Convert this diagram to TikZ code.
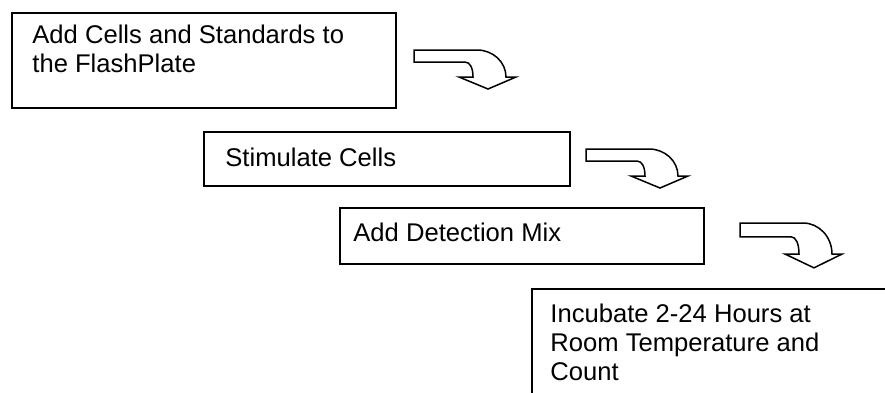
\documentclass[tikz,border=0pt]{standalone}
\usepackage{fontspec}
\setmainfont{Liberation Sans}
\usepackage{tikz}
\tikzstyle{Box}=[draw,line width=1pt,inner sep=0pt,anchor=north west]
\tikzstyle{Step}=[inner sep=0pt,anchor=north west,align=left,
font=\fontsize{12.8}{14.5}\selectfont]
\tikzstyle{BlockArrow}=[draw,line width=.75pt,fill=white,line join=miter]
\tikzset{pics/bent/.style={code={
    \draw[BlockArrow](0,0)--(63,0)..controls(79,0)and(92,12)..(92,27)
        --(102,27)--(74,39)--(45,27)--(59,27)
        ..controls(59,18)and(56,12)..(51,12)--(0,12)--cycle;}}}

\begin{document}
\begin{tikzpicture}[x=.5pt,y=-.5pt]
        \clip(0,0)rectangle(885,392);
        \node[Box,minimum width=192pt,minimum height=47.5pt](1)at(11,12){};
        \node[Box,minimum width=183pt,minimum height=27pt](2)at(203,131){};
        \node[Box,minimum width=182pt,minimum height=28pt](3)at(339,207){};
        \node[Box,minimum width=200pt,minimum height=75pt](4)at(531,288){};
        \node[Step](t1)at(32,25){Add Cells and Standards to\\the FlashPlate};
        \node[Step](t2)at(225,148){Stimulate Cells};
        \node[Step](t3)at(353,223){Add Detection Mix};
        \node[Step](t4)at(550,304){Incubate 2-24 Hours at\\
            Room Temperature and\\Count};
        \pic at(414,50){bent};
        \pic at(586,149){bent};
        \pic[yscale=1.15]at(740,223){bent};
    \end{tikzpicture}
\end{document}
